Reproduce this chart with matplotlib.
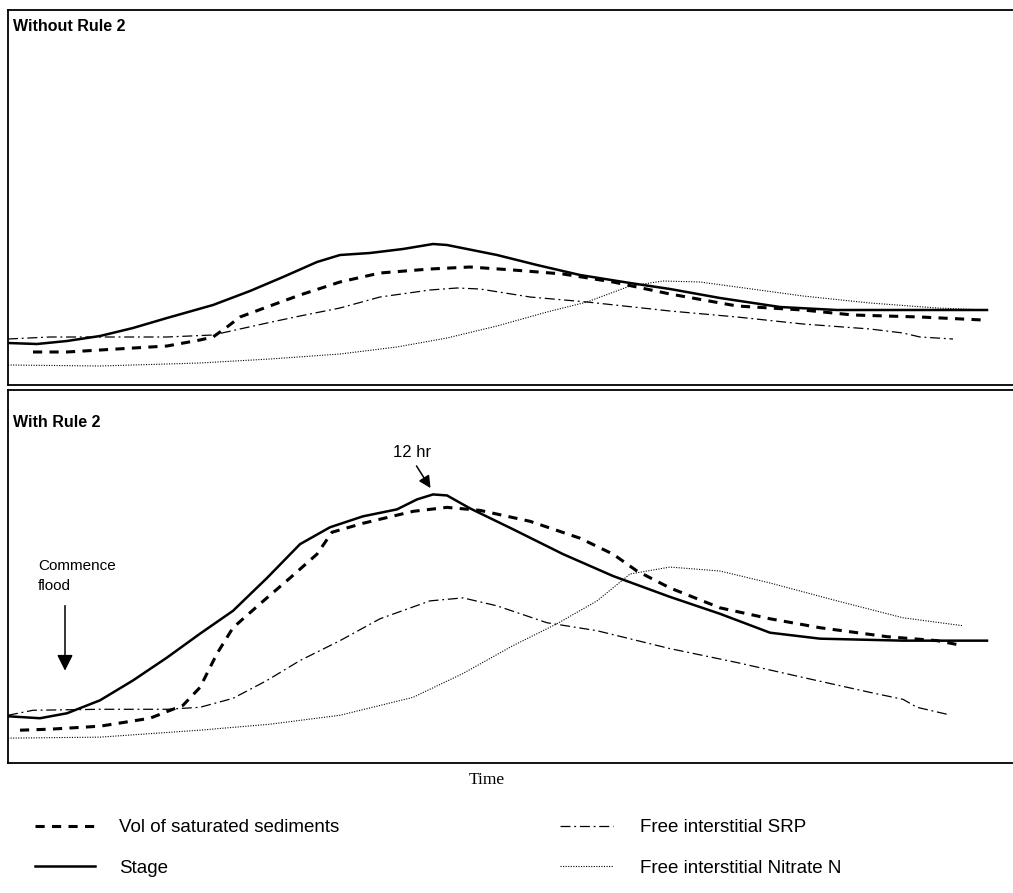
import numpy as np
import matplotlib
matplotlib.use("Agg")
import matplotlib.pyplot as plt

plt.rcParams['font.family'] = ['Liberation Sans', 'DejaVu Sans']

# ---- data (time in arbitrary units, value in arbitrary units)
# without rule 2
t_stage_a = [0, 29, 59, 92, 125, 159, 205, 242, 275, 309, 332, 362, 395, 425, 439, 489, 529, 572, 622, 662, 712, 772, 829, 892, 979]
stage_a = [42, 41, 44, 49, 57, 67, 80, 94, 108, 123, 130, 132, 136, 141, 140, 130, 120, 110, 102, 96, 87, 78, 75, 75, 75]

t_vol_a = [25, 59, 109, 159, 192, 205, 219, 232, 259, 292, 332, 372, 422, 462, 505, 555, 605, 662, 729, 795, 845, 912, 975]
vol_a = [33, 33, 36, 39, 45, 48, 58, 68, 78, 90, 103, 112, 116, 118, 115, 111, 103, 91, 79, 75, 70, 68, 65]

t_srp_a = [0, 42, 92, 159, 205, 259, 292, 332, 372, 422, 449, 472, 522, 579, 662, 729, 795, 862, 895, 912, 945]
srp_a = [46, 48, 48, 48, 50, 62, 69, 77, 88, 95, 97, 96, 88, 83, 74, 68, 61, 56, 52, 48, 46]

t_no3_a = [0, 92, 192, 262, 332, 389, 439, 489, 539, 579, 622, 655, 692, 729, 795, 862, 929, 979]
no3_a = [20, 19, 22, 26, 31, 38, 47, 59, 73, 83, 99, 104, 103, 98, 89, 82, 77, 75]

# with rule 2
t_stage_b = [0, 32, 59, 92, 125, 159, 192, 225, 259, 292, 322, 355, 389, 409, 425, 439, 462, 505, 555, 605, 662, 712, 762, 812, 895, 979]
stage_b = [47, 45, 50, 63, 83, 106, 130, 153, 186, 220, 237, 248, 255, 265, 270, 269, 256, 235, 210, 188, 167, 150, 131, 125, 123, 123]

t_vol_b = [12, 42, 92, 142, 175, 192, 209, 225, 252, 282, 309, 324, 355, 405, 439, 472, 522, 572, 605, 629, 662, 712, 762, 812, 879, 929, 955]
vol_b = [33, 34, 37, 45, 58, 76, 110, 136, 160, 186, 210, 232, 241, 253, 257, 254, 243, 226, 210, 193, 176, 156, 145, 136, 127, 123, 118]

t_srp_b = [0, 25, 92, 159, 192, 225, 259, 292, 332, 372, 422, 455, 489, 539, 589, 662, 729, 795, 862, 895, 909, 939]
srp_b = [48, 53, 54, 54, 56, 65, 83, 103, 123, 145, 163, 166, 158, 141, 133, 115, 101, 86, 71, 64, 56, 49]

t_no3_b = [0, 92, 192, 262, 332, 405, 455, 505, 549, 589, 622, 662, 712, 762, 829, 895, 955]
no3_b = [25, 26, 33, 39, 48, 66, 90, 118, 140, 163, 190, 197, 193, 181, 163, 146, 138]

labels = ["Vol of saturated sediments", "Stage", "Free interstitial SRP", "Free interstitial Nitrate N"]

W, H = 1013, 893
fig = plt.figure(figsize=(W / 100, H / 100), dpi=100)
ax1 = fig.add_axes([8 / W, 1 - 385 / H, 1 - 8 / W, 375 / H])
ax2 = fig.add_axes([8 / W, 1 - 763 / H, 1 - 8 / W, 373 / H])


def draw(ax, ts, ys, tv, yv, tr, yr, tn, yn):
    l_vol, = ax.plot(tv, yv, color='black', lw=2.2, dashes=(3, 2.4), dash_joinstyle='round')
    l_stage, = ax.plot(ts, ys, color='black', lw=1.8, solid_joinstyle='round')
    l_srp, = ax.plot(tr, yr, color='black', lw=0.9, dashes=(8, 3, 1.5, 3))
    l_no3, = ax.plot(tn, yn, color='black', lw=0.8, dashes=(1, 1.3))
    ax.set_xlim(0, 1005)
    ax.set_ylim(0, 375)
    ax.set_xticks([])
    ax.set_yticks([])
    ax.spines['right'].set_visible(False)
    for s in ['left', 'top', 'bottom']:
        ax.spines[s].set_linewidth(1.3)
    return l_vol, l_stage, l_srp, l_no3


draw(ax1, t_stage_a, stage_a, t_vol_a, vol_a, t_srp_a, srp_a, t_no3_a, no3_a)
handles = draw(ax2, t_stage_b, stage_b, t_vol_b, vol_b, t_srp_b, srp_b, t_no3_b, no3_b)

ax1.text(0.005, 0.955, "Without Rule 2", transform=ax1.transAxes, fontsize=11.5,
         fontweight='bold', va='center', ha='left')
ax2.text(0.005, 0.912, "With Rule 2", transform=ax2.transAxes, fontsize=11.5,
         fontweight='bold', va='center', ha='left')

# annotations
ax2.text(385, 312, "12 hr", fontsize=12, va='center', ha='left')
ax2.annotate("", xy=(424, 274), xytext=(407, 301),
             arrowprops=dict(arrowstyle='-|>', color='black', lw=1.1, mutation_scale=18))
ax2.text(30, 188, "Commence\nflood", fontsize=11, va='center', ha='left', linespacing=1.5)
ax2.annotate("", xy=(57, 90), xytext=(57, 161),
             arrowprops=dict(arrowstyle='-|>', color='black', lw=1.1, mutation_scale=24))

fig.text(487 / W, 1 - 780 / H, "Time", fontsize=12.5, family='Liberation Serif',
         ha='center', va='center')

fig.legend(handles[:2], labels[:2], loc='upper left', bbox_to_anchor=(35 / W, 1 - 819 / H),
           frameon=False, fontsize=13.5, borderpad=0, borderaxespad=0, handlelength=3.2,
           handletextpad=1.3, labelspacing=1.25)
fig.legend(handles[2:], labels[2:], loc='upper left', bbox_to_anchor=(560 / W, 1 - 819 / H),
           frameon=False, fontsize=13.5, borderpad=0, borderaxespad=0, handlelength=2.8,
           handletextpad=1.45, labelspacing=1.25)

fig.savefig("out.png", dpi=100)
